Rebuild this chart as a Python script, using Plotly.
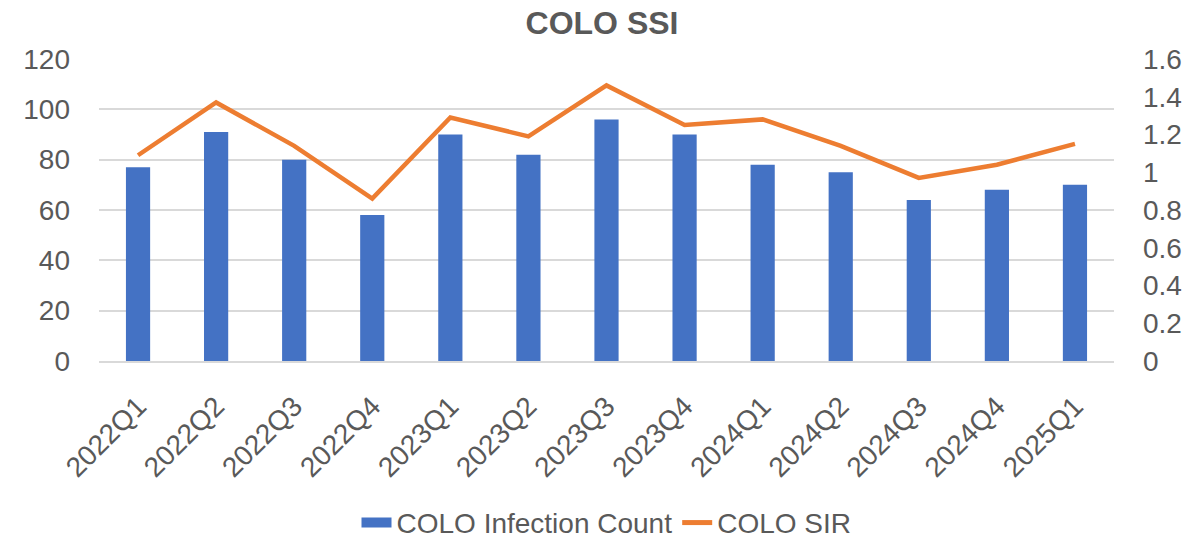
import plotly.graph_objects as go

# data
quarters = ["2022Q1", "2022Q2", "2022Q3", "2022Q4", "2023Q1", "2023Q2", "2023Q3",
            "2023Q4", "2024Q1", "2024Q2", "2024Q3", "2024Q4", "2025Q1"]
infection_count = [77, 91, 80, 58, 90, 82, 96, 90, 78, 75, 64, 68, 70]
sir = [1.09, 1.37, 1.14, 0.86, 1.29, 1.19, 1.46, 1.25, 1.28, 1.14, 0.97, 1.04, 1.15]

left_ticks = [0, 20, 40, 60, 80, 100, 120]
right_ticks = [0, 0.2, 0.4, 0.6, 0.8, 1, 1.2, 1.4, 1.6]

FONT = "Liberation Sans, Arial, sans-serif"
TEXT = "#595959"
GRID = "#D9D9D9"
BLUE = "#4472C4"
ORANGE = "#ED7D31"

fig = go.Figure()

fig.add_trace(go.Bar(
    x=quarters, y=infection_count, name="COLO Infection Count",
    marker=dict(color=BLUE, line=dict(width=0)),
    yaxis="y", showlegend=False,
))

fig.add_trace(go.Scatter(
    x=quarters, y=sir, name="COLO SIR", mode="lines",
    line=dict(color=ORANGE, width=4.5),
    yaxis="y2", showlegend=False,
))

# legend entries (wide swatches like the original)
fig.add_trace(go.Scatter(
    x=[None], y=[None], name="COLO Infection Count", mode="lines",
    line=dict(color=BLUE, width=18), yaxis="y",
))
fig.add_trace(go.Scatter(
    x=[None], y=[None], name="COLO SIR", mode="lines",
    line=dict(color=ORANGE, width=5), yaxis="y2",
))

fig.update_layout(
    width=1204, height=544,
    margin=dict(l=99, r=90, t=59, b=183, autoexpand=False),
    paper_bgcolor="white", plot_bgcolor="white",
    font=dict(family=FONT, color=TEXT, size=28),
    title=dict(text="<b>COLO SSI</b>", x=0.5, xanchor="center", y=0.958, yanchor="middle",
               font=dict(size=32, color=TEXT, family=FONT)),
    bargap=0.69,
    xaxis=dict(
        type="category", tickangle=-45, showgrid=False, automargin=False,
        showline=True, linecolor=GRID, linewidth=1.5,
        ticks="", tickfont=dict(size=28), ticklabelstandoff=16,
    ),
    yaxis=dict(
        range=[0, 120], tickvals=left_ticks, showgrid=True, gridcolor=GRID,
        gridwidth=1.5, zeroline=False, showline=False, ticks="", automargin=False,
        tickfont=dict(size=28), ticklabelstandoff=28,
    ),
    yaxis2=dict(
        range=[0, 1.6], tickvals=right_ticks, overlaying="y", side="right",
        showgrid=False, zeroline=False, showline=False, ticks="", automargin=False,
        tickfont=dict(size=28), ticklabelstandoff=28,
    ),
    legend=dict(
        orientation="h", x=0.5, xanchor="center", y=-0.536, yanchor="middle",
        font=dict(size=28), traceorder="normal",
    ),
)

# drop the default 8px body margin so the 1204x544 figure fills the window exactly
fig.write_html("out.html", config={"displayModeBar": False},
               post_script="document.body.style.margin='0';")
